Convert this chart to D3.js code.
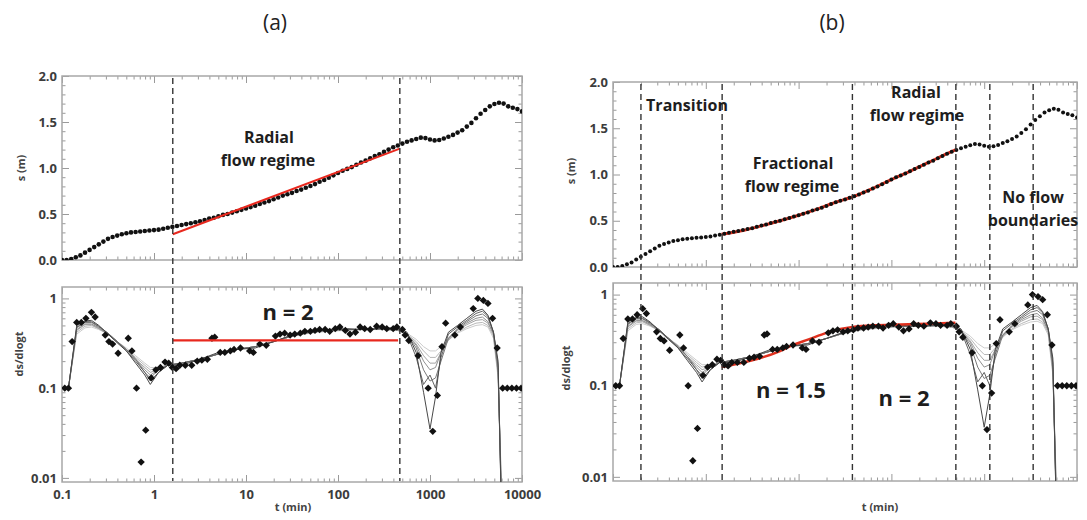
<!DOCTYPE html>
<html>
<head>
<meta charset="utf-8">
<script src="https://cdn.jsdelivr.net/npm/d3@7"></script>
<style>
  body { margin: 0; background: #fff; }
  svg { font-family: "Open Sans", sans-serif; }
</style>
</head>
<body>
<div id="chart"></div>
<script>
"use strict";

// drawdown s (m), log10 of time in minutes
var sLogT = [-1.00, -0.95, -0.90, -0.85, -0.80, -0.75, -0.70, -0.65, -0.60, -0.55,
  -0.50, -0.45, -0.40, -0.35, -0.30, -0.25, -0.20, -0.15, -0.10, -0.05,
  0.00, 0.05, 0.10, 0.15, 0.20, 0.25, 0.30, 0.35, 0.40, 0.45,
  0.50, 0.55, 0.60, 0.65, 0.70, 0.75, 0.80, 0.85, 0.90, 0.95,
  1.00, 1.05, 1.10, 1.15, 1.20, 1.25, 1.30, 1.35, 1.40, 1.45,
  1.50, 1.55, 1.60, 1.65, 1.70, 1.75, 1.80, 1.85, 1.90, 1.95,
  2.00, 2.05, 2.10, 2.15, 2.20, 2.25, 2.30, 2.35, 2.40, 2.45,
  2.50, 2.55, 2.60, 2.65, 2.70, 2.75, 2.80, 2.85, 2.90, 2.95,
  3.00, 3.05, 3.10, 3.15, 3.20, 3.25, 3.30, 3.35, 3.40, 3.45,
  3.50, 3.55, 3.60, 3.65, 3.70, 3.75, 3.80, 3.85, 3.90, 3.95, 4.00];
var sVals = [0.00, 0.00, 0.01, 0.03, 0.05, 0.08, 0.11, 0.14, 0.17, 0.20,
  0.23, 0.25, 0.265, 0.28, 0.29, 0.30, 0.305, 0.31, 0.315, 0.32,
  0.325, 0.33, 0.34, 0.35, 0.36, 0.37, 0.38, 0.39, 0.40, 0.41,
  0.42, 0.435, 0.45, 0.46, 0.475, 0.49, 0.50, 0.515, 0.53, 0.545,
  0.56, 0.575, 0.59, 0.61, 0.625, 0.64, 0.66, 0.68, 0.70, 0.715,
  0.73, 0.75, 0.765, 0.785, 0.805, 0.825, 0.85, 0.87, 0.895, 0.92,
  0.945, 0.97, 0.99, 1.01, 1.035, 1.06, 1.08, 1.105, 1.13, 1.15,
  1.175, 1.20, 1.225, 1.245, 1.265, 1.285, 1.30, 1.315, 1.33, 1.325,
  1.31, 1.30, 1.305, 1.32, 1.34, 1.36, 1.385, 1.41, 1.45, 1.49,
  1.54, 1.59, 1.63, 1.67, 1.695, 1.71, 1.70, 1.67, 1.655, 1.64, 1.615];

// derivative ds/dlogt points
var dLogT = [-0.97, -0.93, -0.89, -0.84, -0.79, -0.74, -0.68, -0.64, -0.53, -0.49,
  -0.45, -0.39, -0.28, -0.24, -0.19, -0.14, -0.09, -0.03, 0.02, 0.07,
  0.12, 0.16, 0.20, 0.24, 0.28, 0.34, 0.41, 0.47, 0.52, 0.58,
  0.63, 0.66, 0.72, 0.77, 0.83, 0.87, 0.94, 1.04, 1.08, 1.15,
  1.22, 1.32, 1.37, 1.42, 1.48, 1.53, 1.59, 1.64, 1.70, 1.75,
  1.80, 1.86, 1.91, 1.97, 2.02, 2.08, 2.13, 2.19, 2.24, 2.29,
  2.35, 2.42, 2.48, 2.53, 2.60, 2.64, 2.70, 2.73, 2.77, 2.87,
  2.98, 3.03, 3.08, 3.13, 3.17, 3.27, 3.33, 3.47, 3.52, 3.58,
  3.63, 3.68, 3.73, 3.79, 3.84, 3.89, 3.94, 3.99];
var dVals = [0.10, 0.10, 0.33, 0.54, 0.54, 0.60, 0.70, 0.62, 0.39, 0.33,
  0.31, 0.245, 0.36, 0.26, 0.10, 0.015, 0.034, 0.13, 0.16, 0.17,
  0.195, 0.19, 0.17, 0.165, 0.18, 0.18, 0.18, 0.20, 0.205, 0.21,
  0.36, 0.37, 0.25, 0.25, 0.26, 0.27, 0.28, 0.26, 0.25, 0.31,
  0.30, 0.38, 0.40, 0.41, 0.39, 0.40, 0.41, 0.43, 0.43, 0.44,
  0.45, 0.45, 0.43, 0.46, 0.48, 0.44, 0.40, 0.42, 0.48, 0.46,
  0.45, 0.49, 0.48, 0.46, 0.46, 0.48, 0.45, 0.39, 0.34, 0.23,
  0.10, 0.033, 0.083, 0.29, 0.53, 0.39, 0.48, 0.77, 1.00, 0.95,
  0.88, 0.60, 0.28, 0.10, 0.10, 0.10, 0.10, 0.10];

// smoothed derivatives (grey curves), darkest to lightest
var grayLogT = [-0.93, -0.84, -0.75, -0.68, -0.60, -0.50, -0.40, -0.30, -0.20, -0.10,
  -0.04, 0.05, 0.15, 0.30, 0.50, 0.70, 0.90, 1.10, 1.30, 1.50,
  1.70, 1.90, 2.10, 2.30, 2.50, 2.65, 2.75, 2.85, 2.93, 3.00,
  3.06, 3.12, 3.20, 3.30, 3.40, 3.50, 3.57, 3.63, 3.69, 3.74, 3.78];
var gray1 = [0.10, 0.50, 0.56, 0.57, 0.50, 0.40, 0.32, 0.26, 0.19, 0.14, 0.11, 0.15, 0.18, 0.18, 0.21, 0.25, 0.27, 0.28, 0.33, 0.39, 0.43, 0.45, 0.46, 0.45, 0.47, 0.47, 0.42, 0.25, 0.09, 0.035, 0.08, 0.25, 0.42, 0.50, 0.60, 0.72, 0.76, 0.65, 0.42, 0.20, 0.003];
var gray2 = [0.10, 0.48, 0.55, 0.55, 0.49, 0.41, 0.33, 0.26, 0.20, 0.15, 0.12, 0.15, 0.18, 0.19, 0.21, 0.24, 0.27, 0.29, 0.33, 0.39, 0.43, 0.45, 0.45, 0.45, 0.46, 0.46, 0.40, 0.22, 0.11, 0.14, 0.10, 0.22, 0.40, 0.48, 0.57, 0.68, 0.72, 0.63, 0.42, 0.18, 0.003];
var gray3 = [0.10, 0.47, 0.54, 0.54, 0.48, 0.41, 0.33, 0.27, 0.21, 0.15, 0.13, 0.16, 0.18, 0.19, 0.21, 0.24, 0.27, 0.29, 0.33, 0.38, 0.42, 0.44, 0.45, 0.45, 0.46, 0.45, 0.40, 0.28, 0.16, 0.12, 0.13, 0.20, 0.36, 0.46, 0.55, 0.64, 0.67, 0.60, 0.42, 0.17, 0.004];
var gray4 = [0.10, 0.45, 0.52, 0.52, 0.47, 0.40, 0.33, 0.27, 0.21, 0.16, 0.14, 0.16, 0.18, 0.19, 0.21, 0.24, 0.27, 0.29, 0.33, 0.38, 0.42, 0.44, 0.45, 0.45, 0.46, 0.45, 0.40, 0.30, 0.20, 0.16, 0.17, 0.25, 0.36, 0.45, 0.53, 0.60, 0.62, 0.55, 0.40, 0.15, 0.004];
var gray5 = [0.10, 0.44, 0.51, 0.51, 0.46, 0.40, 0.33, 0.27, 0.21, 0.17, 0.15, 0.16, 0.18, 0.19, 0.21, 0.24, 0.27, 0.29, 0.33, 0.38, 0.42, 0.44, 0.45, 0.45, 0.45, 0.44, 0.40, 0.31, 0.23, 0.19, 0.19, 0.25, 0.35, 0.44, 0.51, 0.57, 0.58, 0.53, 0.40, 0.15, 0.005];
var gray6 = [0.10, 0.42, 0.49, 0.50, 0.46, 0.40, 0.33, 0.27, 0.22, 0.18, 0.16, 0.17, 0.18, 0.19, 0.21, 0.24, 0.27, 0.29, 0.33, 0.38, 0.42, 0.44, 0.45, 0.45, 0.45, 0.44, 0.40, 0.33, 0.26, 0.22, 0.22, 0.26, 0.34, 0.42, 0.48, 0.53, 0.54, 0.50, 0.38, 0.14, 0.006];
var gray7 = [0.10, 0.40, 0.47, 0.48, 0.45, 0.40, 0.33, 0.28, 0.23, 0.19, 0.17, 0.17, 0.18, 0.19, 0.21, 0.24, 0.27, 0.29, 0.33, 0.38, 0.41, 0.43, 0.44, 0.45, 0.45, 0.44, 0.41, 0.35, 0.29, 0.26, 0.26, 0.29, 0.35, 0.41, 0.46, 0.50, 0.51, 0.48, 0.36, 0.13, 0.007];
var grayCurves = [gray7, gray6, gray5, gray4, gray3, gray2, gray1];
var grayColors = ["#cccccc", "#b8b8b8", "#a4a4a4", "#909090", "#7a7a7a", "#626262", "#484848"];

// (a) radial fits
var fitA_t = [1.6, 470];
var fitA_s = [0.28, 1.21];
var fitA_dt = [1.6, 450];
var fitA_d = [0.34, 0.34];

// (b) fractional + radial fits
var fitB_logt = [0.17, 0.40, 0.60, 0.80, 1.00, 1.20, 1.40, 1.60, 1.80, 2.00, 2.20, 2.40, 2.60, 2.69];
var fitB_s = [0.355, 0.395, 0.445, 0.50, 0.56, 0.625, 0.70, 0.765, 0.85, 0.945, 1.035, 1.13, 1.225, 1.265];
var fitB_dlogt = [0.17, 0.40, 0.58, 0.80, 0.94, 1.10, 1.30, 1.45, 1.58, 1.80, 2.10, 2.40, 2.69];
var fitB_d = [0.16, 0.18, 0.20, 0.24, 0.28, 0.32, 0.38, 0.42, 0.44, 0.46, 0.47, 0.48, 0.49];

// vertical dashed boundaries (min)
var bounds_a = [1.6, 470];
var bounds_b = [0.2, 1.5, 38, 495, 1150, 3370];

var xTicks = [0.1, 1, 10, 100, 1000, 10000];
var xTickLabels = ["0.1", "1", "10", "100", "1000", "10000"];
var sTicks = [0, 0.5, 1, 1.5, 2];
var dTicks = [0.01, 0.1, 1];
var dTickLabels = ["0.01", "0.1", "1"];

var width = 1087,
  height = 520;

var svg = d3.select("#chart").append("svg")
  .attr("width", width)
  .attr("height", height);

var panels = [
  {
    id: "a", x: [62, 522], top: [76, 260], bot: [287, 482], labelsX: true,
    title: "(a)", titleX: 275, sLabelX: 21, sLabelY: 168, dLabelX: 19, dLabelY: 354, tLabelX: 293,
    bounds: bounds_a,
    notes: [
      { t: "Radial", x: 269, y: 143, size: 16 },
      { t: "flow regime", x: 268, y: 166, size: 16 },
      { t: "n = 2", x: 288, y: 320, size: 22 }
    ]
  },
  {
    id: "b", x: [613, 1077], top: [82, 267], bot: [283, 481], labelsX: false,
    title: "(b)", titleX: 832, sLabelX: 571, sLabelY: 171, dLabelX: 566, dLabelY: 368, tLabelX: 880,
    bounds: bounds_b,
    notes: [
      { t: "Transition", x: 687, y: 111, size: 16 },
      { t: "Fractional", x: 793, y: 169, size: 16 },
      { t: "flow regime", x: 792, y: 192, size: 16 },
      { t: "Radial", x: 916, y: 98, size: 16 },
      { t: "flow regime", x: 917, y: 121, size: 16 },
      { t: "No flow", x: 1033, y: 203, size: 16 },
      { t: "boundaries", x: 1033, y: 226, size: 16 },
      { t: "n = 1.5", x: 791, y: 398, size: 22 },
      { t: "n = 2", x: 904, y: 406, size: 22 }
    ]
  }
];

function minorLog(lo, hi) {
  var out = [];
  d3.scaleLog().domain([lo, hi]).ticks().forEach(function(v) {
    var m = v / Math.pow(10, Math.floor(Math.log10(v) + 1e-9));
    if (Math.abs(m - 1) > 1e-6) out.push(v);
  });
  return out;
}

function frame(g, x, y, majX, minX, majY, minY, yFmt, xLabels) {
  var x0 = x.range()[0], x1 = x.range()[1];
  var y0 = y.range()[1], y1 = y.range()[0];

  // ticks on all four sides, pointing inward
  [[d3.axisBottom, y1, -7, majX], [d3.axisBottom, y1, -3.5, minX],
   [d3.axisTop, y0, -7, majX], [d3.axisTop, y0, -3.5, minX]].forEach(function(a) {
    g.append("g").attr("transform", "translate(0," + a[1] + ")")
      .call(a[0](x).tickValues(a[3]).tickSize(a[2]).tickFormat(""))
      .call(function(s) { s.select(".domain").remove(); });
  });
  [[d3.axisLeft, x0, -7, majY], [d3.axisLeft, x0, -3.5, minY],
   [d3.axisRight, x1, -7, majY], [d3.axisRight, x1, -3.5, minY]].forEach(function(a) {
    g.append("g").attr("transform", "translate(" + a[1] + ",0)")
      .call(a[0](y).tickValues(a[3]).tickSize(a[2]).tickFormat(""))
      .call(function(s) { s.select(".domain").remove(); });
  });
  g.selectAll(".tick line").attr("stroke", "#9a9a9a").attr("stroke-width", 1);

  // y tick labels
  g.append("g").attr("transform", "translate(" + x0 + ",0)")
    .call(d3.axisLeft(y).tickValues(majY).tickSize(0).tickPadding(5).tickFormat(yFmt))
    .call(function(s) { s.select(".domain").remove(); })
    .selectAll("text")
    .attr("font-size", 13).attr("font-weight", "bold").attr("fill", "#3c3c3c")
    .attr("font-family", "Open Sans, sans-serif");

  if (xLabels) {
    g.append("g").attr("transform", "translate(0," + y1 + ")")
      .call(d3.axisBottom(x).tickValues(xTicks).tickSize(0).tickPadding(8)
        .tickFormat(function(d, i) { return xTickLabels[i]; }))
      .call(function(s) { s.select(".domain").remove(); })
      .selectAll("text")
      .attr("font-size", 13).attr("font-weight", "bold").attr("fill", "#3c3c3c")
      .attr("font-family", "Open Sans, sans-serif");
  }

  g.append("rect")
    .attr("x", x0).attr("y", y0)
    .attr("width", x1 - x0).attr("height", y1 - y0)
    .attr("fill", "none").attr("stroke", "#a8a8a8").attr("stroke-width", 1.5);
}

var minorX = minorLog(0.1, 10000);
var minorS = d3.range(0, 2.01, 0.1).filter(function(v) { return Math.abs(v * 2 - Math.round(v * 2)) > 1e-6; });
var minorD = minorLog(0.01, 1);

// equal-sided diamond marker
var diamond = d3.symbol().type(d3.symbolSquare).size(27);

panels.forEach(function(p) {
  var g = svg.append("g").attr("class", "panel-" + p.id);

  var x = d3.scaleLog().domain([0.1, 10000]).range(p.x);
  var ys = d3.scaleLinear().domain([0, 2]).range([p.top[1], p.top[0]]);
  var yd = d3.scaleLog().domain([0.009, 1.34]).range([p.bot[1], p.bot[0]]);

  // clip regions
  var defs = g.append("defs");
  defs.append("clipPath").attr("id", "clipTop" + p.id).append("rect")
    .attr("x", p.x[0]).attr("y", p.top[0]).attr("width", p.x[1] - p.x[0]).attr("height", p.top[1] - p.top[0]);
  defs.append("clipPath").attr("id", "clipBot" + p.id).append("rect")
    .attr("x", p.x[0]).attr("y", p.bot[0]).attr("width", p.x[1] - p.x[0]).attr("height", p.bot[1] - p.bot[0]);

  frame(g, x, ys, xTicks, minorX, sTicks, minorS, d3.format(".1f"), false);
  frame(g, x, yd, xTicks, minorX, dTicks, minorD, function(d, i) { return dTickLabels[i]; }, p.labelsX);

  var top = g.append("g").attr("clip-path", "url(#clipTop" + p.id + ")");
  var bot = g.append("g").attr("clip-path", "url(#clipBot" + p.id + ")");

  var lineS = d3.line().x(function(d) { return x(Math.pow(10, d[0])); }).y(function(d) { return ys(d[1]); });
  var lineD = d3.line().x(function(d) { return x(Math.pow(10, d[0])); }).y(function(d) { return yd(d[1]); });

  // grey smoothed derivatives
  grayCurves.forEach(function(c, i) {
    bot.append("path")
      .datum(d3.zip(grayLogT, c))
      .attr("d", lineD)
      .attr("fill", "none")
      .attr("stroke", grayColors[i])
      .attr("stroke-width", 1);
  });

  if (p.id === "b") {
    top.append("path").datum(d3.zip(fitB_logt, fitB_s)).attr("d", lineS.curve(d3.curveMonotoneX))
      .attr("fill", "none").attr("stroke", "#e0301e").attr("stroke-width", 3);
    bot.append("path").datum(d3.zip(fitB_dlogt, fitB_d)).attr("d", lineD.curve(d3.curveMonotoneX))
      .attr("fill", "none").attr("stroke", "#e0301e").attr("stroke-width", 2.5);
  }

  // drawdown points
  top.selectAll("circle.s")
    .data(d3.zip(sLogT, sVals))
    .enter().append("circle")
    .attr("class", "s")
    .attr("cx", function(d) { return x(Math.pow(10, d[0])); })
    .attr("cy", function(d) { return ys(d[1]); })
    .attr("r", p.id === "b" ? 2 : 2.3)
    .attr("fill", "#111");

  // derivative points
  bot.selectAll("path.d")
    .data(d3.zip(dLogT, dVals))
    .enter().append("path")
    .attr("class", "d")
    .attr("transform", function(d) {
      return "translate(" + x(Math.pow(10, d[0])) + "," + yd(d[1]) + ") rotate(45)";
    })
    .attr("d", diamond)
    .attr("fill", "#111");

  if (p.id === "a") {
    top.append("line")
      .attr("x1", x(fitA_t[0])).attr("y1", ys(fitA_s[0]))
      .attr("x2", x(fitA_t[1])).attr("y2", ys(fitA_s[1]))
      .attr("stroke", "#e8281e").attr("stroke-width", 2);
    bot.append("line")
      .attr("x1", x(fitA_dt[0])).attr("y1", yd(fitA_d[0]))
      .attr("x2", x(fitA_dt[1])).attr("y2", yd(fitA_d[1]))
      .attr("stroke", "#e8281e").attr("stroke-width", 2.2);
  }

  // regime boundaries
  g.selectAll("line.bound")
    .data(p.bounds)
    .enter().append("line")
    .attr("class", "bound")
    .attr("x1", function(d) { return x(d); })
    .attr("x2", function(d) { return x(d); })
    .attr("y1", p.top[0] + 2)
    .attr("y2", p.bot[1] - 1)
    .attr("stroke", "#333")
    .attr("stroke-width", 1.4)
    .attr("stroke-dasharray", "6,4");

  // annotations
  g.selectAll("text.note")
    .data(p.notes)
    .enter().append("text")
    .attr("class", "note")
    .attr("x", function(d) { return d.x; })
    .attr("y", function(d) { return d.y; })
    .attr("text-anchor", "middle")
    .attr("font-size", function(d) { return d.size; })
    .attr("font-weight", "bold")
    .attr("fill", "#1e1e1e")
    .text(function(d) { return d.t; });

  // titles and axis labels
  g.append("text").attr("x", p.titleX).attr("y", 30).attr("text-anchor", "middle")
    .attr("font-size", 21).attr("fill", "#222").text(p.title);

  g.append("text")
    .attr("transform", "translate(" + p.sLabelX + "," + p.sLabelY + ") rotate(-90)")
    .attr("text-anchor", "middle").attr("dy", "0.35em")
    .attr("font-size", 11).attr("font-weight", "bold").attr("fill", "#444")
    .text("s  (m)");
  g.append("text")
    .attr("transform", "translate(" + p.dLabelX + "," + p.dLabelY + ") rotate(-90)")
    .attr("text-anchor", "middle").attr("dy", "0.35em")
    .attr("font-size", 11).attr("font-weight", "bold").attr("fill", "#444")
    .text("ds/dlogt");
  g.append("text")
    .attr("x", p.tLabelX).attr("y", 511).attr("text-anchor", "middle")
    .attr("font-size", 11).attr("font-weight", "bold").attr("fill", "#444")
    .text("t  (min)");
});
</script>
</body>
</html>
